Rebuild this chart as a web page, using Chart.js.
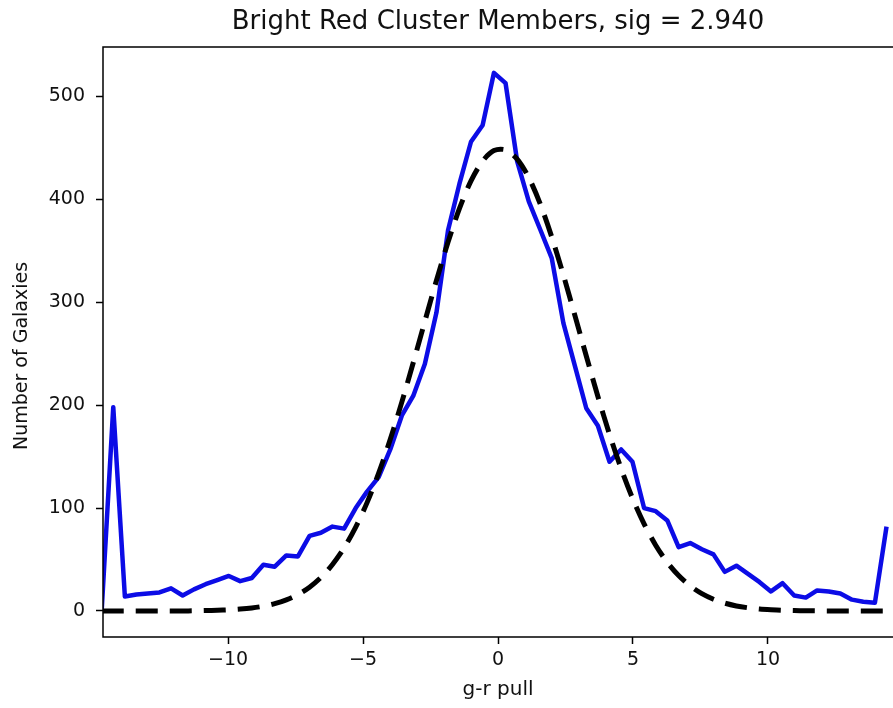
<!DOCTYPE html>
<html>
<head>
<meta charset="utf-8">
<script src="https://cdn.jsdelivr.net/npm/chart.js@4"></script>
<style>
  html, body { margin: 0; padding: 0; background: #fff; }
  #wrap { width: 893px; height: 708px; }
</style>
</head>
<body>
<div id="wrap"><canvas id="pullChart" width="893" height="708"></canvas></div>
<script>
// ═══ data ═══

// bin centres (g-r pull)
const pullBins = [
    -14.68, -14.25, -13.82, -13.39, -12.97, -12.54, -12.11, -11.68, -11.26, -10.83,
    -10.40,  -9.97,  -9.55,  -9.12,  -8.69,  -8.27,  -7.84,  -7.41,  -6.98,  -6.56,
     -6.13,  -5.70,  -5.27,  -4.85,  -4.42,  -3.99,  -3.56,  -3.14,  -2.71,  -2.28,
     -1.85,  -1.43,  -1.00,  -0.57,  -0.15,   0.28,   0.71,   1.14,   1.56,   1.99,
      2.42,   2.85,   3.27,   3.70,   4.13,   4.56,   4.98,   5.41,   5.84,   6.27,
      6.69,   7.12,   7.55,   7.98,   8.40,   8.83,   9.26,   9.69,  10.11,  10.54,
     10.97,  11.40,  11.82,  12.25,  12.68,  13.11,  13.53,  13.96,  14.39,  14.82
];

// galaxy counts per bin (blue)
const galaxyCounts = [
      0, 198,  14,  16,  17,  18,  22,  15,  21,  26,
     30,  34,  29,  32,  45,  43,  54,  53,  73,  76,
     82,  80, 100, 116, 130, 157, 190, 209, 240, 290,
    370, 415, 456, 472, 523, 513, 437, 398, 371, 343,
    280, 238, 197, 180, 145, 157, 145, 100,  97,  88,
     62,  66,  60,  55,  38,  44,  36,  28,  19,  27,
     15,  13,  20,  19,  17,  11,   9,   8,  82
];

// gaussian fit (black dashed)
const fitCounts = [
      0,   0,   0,   0,   0,   0,   0,   0, 0.2, 0.4,
    0.7, 1.1, 1.8, 2.9, 4.6, 7.1, 10.8, 15.9, 23.1, 32.5,
    45.2, 61.3, 81.5, 105.3, 134, 166.8, 203.2, 241.2, 281.4, 321.2,
    358.5, 391, 418, 437.2, 447.4, 448.1, 439.2, 421.2, 395.8, 363.5,
    326.6, 287, 247.8, 208.5, 171.7, 138.4, 109.7, 84.7, 63.9, 47.2,
    34.4, 24.3, 16.8, 11.4, 7.6, 4.9, 3.1, 1.9, 1.2, 0.7,
    0.4, 0.2, 0.1, 0, 0, 0, 0, 0, 0, 0
];

const xTicks      = [-10, -5, 0, 5, 10];
const xTickLabels = ['\u221210', '\u22125', '0', '5', '10'];
const yTicks      = [0, 100, 200, 300, 400, 500];

const FONT = "'DejaVu Sans', 'Liberation Sans', sans-serif";

// matplotlib-style box (left, top, bottom spines; right one is off the picture)
const frame = {
    id: 'frame',
    afterDatasetsDraw(chart) {
        const { ctx, chartArea: a } = chart;
        ctx.save();
        ctx.strokeStyle = '#000';
        ctx.lineWidth = 1.5;
        ctx.beginPath();
        ctx.moveTo(a.right + 2, a.top);
        ctx.lineTo(a.left, a.top);
        ctx.lineTo(a.left, a.bottom);
        ctx.lineTo(a.right + 2, a.bottom);
        ctx.stroke();
        ctx.restore();
    }
};

// title + y label, centred on the axes box like matplotlib does
const labels = {
    id: 'labels',
    afterDraw(chart) {
        const { ctx, chartArea: a } = chart;
        ctx.save();
        ctx.fillStyle = '#111';
        ctx.textAlign = 'center';
        ctx.textBaseline = 'middle';
        ctx.font = `26px ${FONT}`;
        ctx.fillText('Bright Red Cluster Members, sig = 2.940', (a.left + a.right) / 2, 22);

        ctx.translate(22, 356);
        ctx.rotate(-Math.PI / 2);
        ctx.font = `19px ${FONT}`;
        ctx.fillText('Number of Galaxies', 0, 0);
        ctx.restore();
    }
};

new Chart(document.getElementById('pullChart').getContext('2d'), {
    type: 'line',
    data: {
        datasets: [{
            label: 'members',
            data: galaxyCounts.map((v, i) => ({ x: pullBins[i], y: v })),
            borderColor: '#0c0ce6',
            borderWidth: 4.5,
            borderJoinStyle: 'round',
            pointRadius: 0,
            tension: 0,
            order: 2
        }, {
            label: 'fit',
            data: fitCounts.map((v, i) => ({ x: pullBins[i], y: v })),
            borderColor: '#000',
            borderWidth: 5,
            borderDash: [22, 12],
            pointRadius: 0,
            tension: 0.3,
            order: 1
        }]
    },
    options: {
        responsive: false,
        animation: false,
        layout: { padding: { top: 47, left: 0, right: 0, bottom: 0 } },
        plugins: {
            legend: { display: false },
            tooltip: { enabled: false },
            title: { display: false }
        },
        scales: {
            x: {
                type: 'linear',
                min: -14.63,
                max: 14.63,
                afterFit: s => { s.height = 71; },
                afterBuildTicks: s => { s.ticks = xTicks.map(v => ({ value: v })); },
                ticks: {
                    color: '#111',
                    font: { family: FONT, size: 19 },
                    padding: 5,
                    maxRotation: 0,
                    callback: (v, i) => xTickLabels[i]
                },
                grid: { drawOnChartArea: false, tickLength: 7, tickColor: '#000', tickWidth: 1.5 },
                border: { display: false },
                title: {
                    display: true,
                    text: 'g-r pull',
                    color: '#111',
                    font: { family: FONT, size: 20 },
                    padding: { top: 0, bottom: 6 }
                }
            },
            y: {
                min: -25.3,
                max: 548.1,
                afterFit: s => { s.width = 103; },
                afterBuildTicks: s => { s.ticks = yTicks.map(v => ({ value: v })); },
                ticks: {
                    color: '#111',
                    font: { family: FONT, size: 19 },
                    padding: 11
                },
                grid: { drawOnChartArea: false, tickLength: 7, tickColor: '#000', tickWidth: 1.5 },
                border: { display: false }
            }
        }
    },
    plugins: [frame, labels]
});
</script>
</body>
</html>
